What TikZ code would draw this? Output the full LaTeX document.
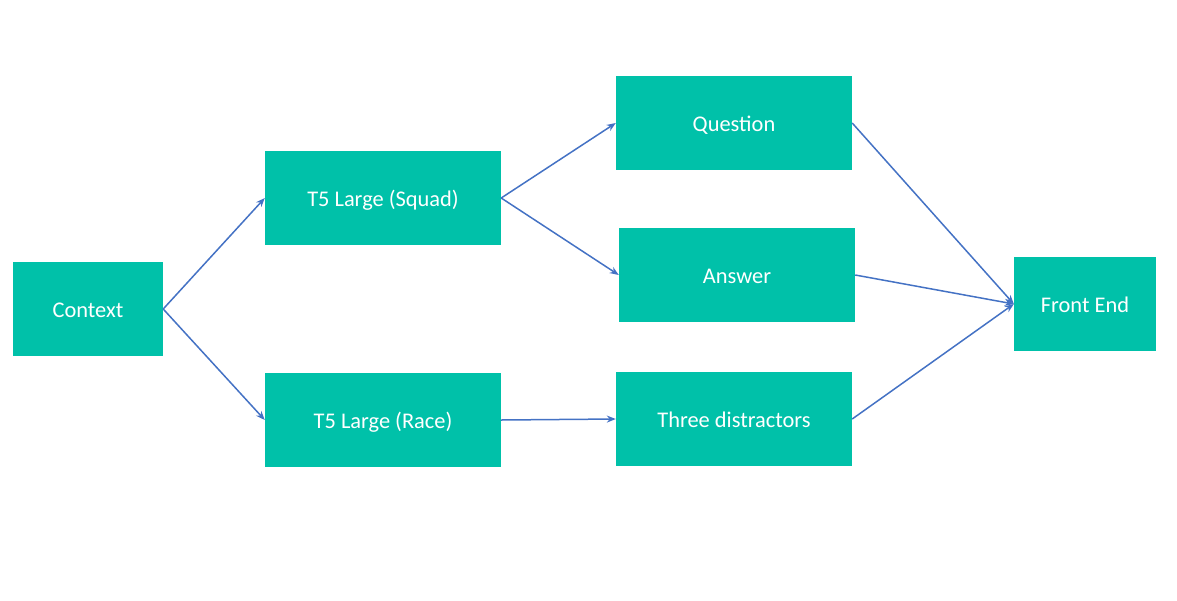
\documentclass[tikz,border=0pt]{standalone}
\usepackage{fontspec}
\setmainfont{Carlito}
\usetikzlibrary{arrows.meta}
\definecolor{boxteal}{HTML}{00C1A9}
\definecolor{arrowblue}{HTML}{4472C4}
\begin{document}
\begin{tikzpicture}[x=1pt,y=-1pt,
  box/.style={rectangle, fill=boxteal, draw=none, minimum height=94pt, minimum width=236pt, inner sep=0pt, text height=16pt, text depth=0pt, text=white, font=\fontsize{22.4}{27}\selectfont},
  conn/.style={draw=arrowblue, line width=1.5pt, -{Stealth[length=9pt,width=7pt]}}]
\useasboundingbox (0,0) rectangle (1177,600);
\node[box, minimum width=150pt] (ctx) at (88,309) {Context};
\node[box] (squad) at (383,198) {T5 Large (Squad)};
\node[box] (race) at (383,420) {T5 Large (Race)};
\node[box] (q) at (734,123) {Question};
\node[box] (a) at (737,275) {Answer};
\node[box] (d) at (734,419) {Three distractors};
\node[box, minimum width=142pt] (fe) at (1085,304) {Front End};
\draw[conn] (ctx.east) -- (squad.west);
\draw[conn] (ctx.east) -- (race.west);
\draw[conn] (squad.east) -- (q.west);
\draw[conn] (squad.east) -- (a.west);
\draw[conn] (race.east) -- (d.west);
\draw[conn] (q.east) -- (fe.west);
\draw[conn] (a.east) -- (fe.west);
\draw[conn] (d.east) -- (fe.west);
\end{tikzpicture}
\end{document}
